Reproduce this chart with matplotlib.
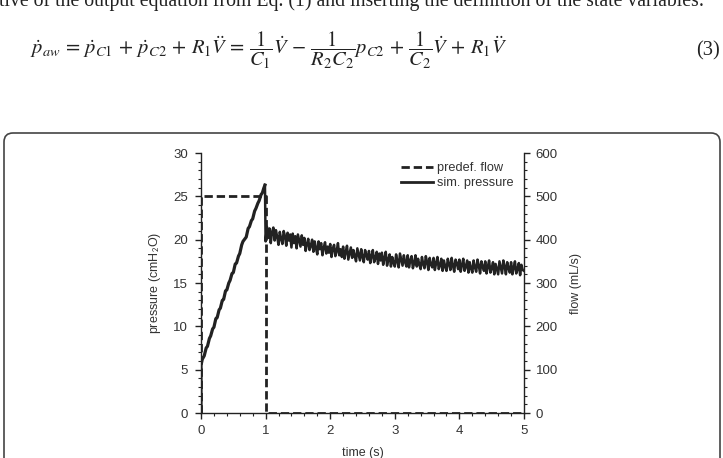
import numpy as np
import matplotlib
matplotlib.use("Agg")
import matplotlib.pyplot as plt
from matplotlib.patches import FancyBboxPatch
from matplotlib.lines import Line2D
from matplotlib.ticker import MultipleLocator
from matplotlib.transforms import IdentityTransform

plt.rcParams['font.family'] = ['Liberation Sans', 'DejaVu Sans']
plt.rcParams['mathtext.fontset'] = 'stix'

# ---------------- data ----------------
# predefined flow (mL/s)
flow_t = [0.0, 0.0, 1.0, 1.0, 5.0]
flow_v = [0, 500, 500, 0, 0]

# simulated pressure during inspiration (cmH2O)
ramp_t = [0.0, 0.0, 0.02, 0.05, 0.08, 0.10, 0.13, 0.15, 0.18, 0.20, 0.23, 0.25, 0.28,
          0.30, 0.33, 0.35, 0.38, 0.40, 0.43, 0.45, 0.48, 0.50, 0.53, 0.55, 0.58,
          0.60, 0.63, 0.65, 0.68, 0.70, 0.73, 0.75, 0.78, 0.80, 0.83, 0.85, 0.88,
          0.90, 0.93, 0.95, 0.97, 0.99]
ramp_p = [0.0, 5.5, 6.2, 6.6, 7.5, 7.7, 8.6, 8.9, 9.7, 9.9, 10.9, 11.0, 11.9,
          12.1, 13.0, 13.1, 14.1, 14.2, 15.0, 15.3, 16.1, 16.2, 17.2, 17.3, 18.1,
          18.4, 19.4, 19.8, 20.1, 20.3, 21.3, 21.5, 22.2, 22.4, 23.3, 23.6, 24.2,
          24.5, 25.2, 25.4, 25.9, 26.3]

# simulated pressure after end of inspiration, sampled every 0.02 s from 1.00 s to 5.00 s
decay_p = [
    19.8, 21.5, 20.2, 21.3, 19.6, 20.9, 21.4, 19.9, 21.1, 20.3,
    19.4, 20.9, 20.1, 19.5, 21.0, 20.4, 19.3, 20.8, 19.9, 20.6,
    19.1, 20.7, 19.6, 20.4, 19.0, 20.6, 19.9, 19.2, 20.5, 19.4,
    20.2, 18.7, 19.5, 20.1, 18.8, 19.3, 20.0, 18.6, 19.8, 19.0,
    18.3, 19.8, 18.9, 19.6, 18.2, 19.1, 19.7, 18.4, 19.2, 18.5,
    19.5, 18.0, 19.0, 19.4, 18.1, 18.7, 19.6, 18.2, 18.9, 18.0,
    19.2, 17.8, 18.6, 19.3, 17.7, 18.4, 19.1, 17.9, 18.8, 18.1,
    17.5, 19.0, 18.3, 17.6, 18.9, 18.0, 17.4, 18.8, 18.2, 17.7,
    18.7, 17.3, 18.1, 18.8, 17.4, 17.9, 18.6, 17.2, 18.4, 17.6,
    18.5, 17.1, 17.9, 18.6, 17.0, 17.7, 18.3, 16.9, 18.0, 17.3,
    16.9, 18.3, 17.5, 16.8, 18.4, 17.7, 17.0, 18.2, 17.4, 16.9,
    18.2, 16.8, 17.6, 18.1, 16.7, 17.3, 18.2, 16.9, 17.8, 17.1,
    16.6, 18.0, 17.2, 16.7, 18.1, 17.4, 16.5, 17.9, 17.1, 16.8,
    17.9, 16.5, 17.3, 18.0, 16.6, 17.0, 17.8, 16.4, 17.6, 16.9,
    16.4, 17.8, 17.2, 16.5, 17.9, 17.0, 16.3, 17.7, 17.3, 16.6,
    17.7, 16.3, 17.1, 17.8, 16.4, 16.9, 17.6, 16.2, 17.4, 16.7,
    16.2, 17.6, 16.8, 16.3, 17.7, 17.0, 16.1, 17.5, 16.9, 16.4,
    17.5, 16.1, 16.9, 17.6, 16.2, 16.7, 17.4, 16.0, 17.2, 16.6,
    16.0, 17.5, 16.8, 16.1, 17.6, 16.9, 16.0, 17.4, 16.7, 16.2,
    17.4, 16.0, 16.8, 17.5, 16.1, 16.6, 17.3, 15.9, 17.1, 16.5,
    16.4,
]
decay_t = np.round(np.linspace(1.0, 5.0, len(decay_p)), 2)

press_t = list(ramp_t) + list(decay_t)
press_p = list(ramp_p) + list(decay_p)

x_ticks = [0, 1, 2, 3, 4, 5]
p_ticks = [0, 5, 10, 15, 20, 25, 30]
f_ticks = [0, 100, 200, 300, 400, 500, 600]

series_labels = ["predef. flow", "sim. pressure"]

# ---------------- figure ----------------
W, H = 723, 458
fig = plt.figure(figsize=(W / 100, H / 100), dpi=100)
fig.patch.set_facecolor('white')

txt = '#333333'
ink = '#222222'

# page text above the figure
fig.text(-1 / W, 1 - 6 / H,
         "tive of the output equation from Eq. (1) and inserting the definition of the state variables:",
         family=['Liberation Serif', 'DejaVu Serif'], fontsize=14.2, color='#222222',
         ha='left', va='baseline')
fig.text(30 / W, 1 - 55 / H,
         r'$\dot{p}_{aw} \,=\, \dot{p}_{C1} \,+\, \dot{p}_{C2} \,+\, R_1\ddot{V} \,=\, \dfrac{1}{C_1}\dot{V}'
         r' \,-\, \dfrac{1}{R_2C_2}p_{C2} \,+\, \dfrac{1}{C_2}\dot{V} \,+\, R_1\ddot{V}$',
         fontsize=14.8, color='#222222', ha='left', va='baseline')
fig.text(720 / W, 1 - 55 / H, "(3)", family=['Liberation Serif', 'DejaVu Serif'],
         fontsize=14.8, color='#222222', ha='right', va='baseline')

# rounded frame around the figure
frame = FancyBboxPatch((4, -30), 716, 355, boxstyle="round,pad=0,rounding_size=9",
                       transform=IdentityTransform(), fill=False,
                       edgecolor='#444444', linewidth=1.2)
fig.patches.append(frame)
frame.set_figure(fig)

ax = fig.add_axes([201 / W, 45 / H, 323 / W, 260 / H])
ax2 = ax.twinx()

dash = (0, (3.0, 1.4))
ax2.plot(flow_t, flow_v, color=ink, linestyle=dash, linewidth=2.0, zorder=3)
ax.plot(ramp_t, ramp_p, color=ink, linestyle='-', linewidth=2.3, zorder=2)
ax.plot(press_t[len(ramp_t) - 1:], press_p[len(ramp_t) - 1:], color=ink,
        linestyle='-', linewidth=1.8, zorder=2)

ax.set_xlim(0, 5)
ax.set_ylim(0, 30)
ax2.set_ylim(0, 600)

ax.set_xticks(x_ticks)
ax.set_yticks(p_ticks)
ax2.set_yticks(f_ticks)
ax.xaxis.set_minor_locator(MultipleLocator(0.2))
ax.yaxis.set_minor_locator(MultipleLocator(1))
ax2.yaxis.set_minor_locator(MultipleLocator(20))

for a in (ax, ax2):
    a.spines['top'].set_visible(False)
    a.patch.set_visible(False)
    for s in a.spines.values():
        s.set_color(ink)
        s.set_linewidth(1.0)
ax.spines['right'].set_visible(False)
ax2.spines['left'].set_visible(False)
ax2.spines['bottom'].set_visible(False)

ax.tick_params(axis='both', which='major', direction='out', length=4.5, width=1.0,
               color=ink, labelsize=9.5, labelcolor=txt, pad=4)
ax.tick_params(axis='both', which='minor', direction='out', length=2.5, width=0.8, color=ink)
ax.tick_params(axis='y', which='major', pad=5)
ax2.tick_params(axis='y', which='major', direction='out', length=4.5, width=1.0,
                color=ink, labelsize=9.5, labelcolor=txt, pad=4)
ax2.tick_params(axis='y', which='minor', direction='out', length=2.5, width=0.8, color=ink)

ax.set_xlabel("time (s)", fontsize=9, color=txt)
ax.set_ylabel(r"pressure (cmH$_{\mathsf{2}}$O)", fontsize=9, color=txt)
ax2.set_ylabel("flow (mL/s)", fontsize=9, color=txt, rotation=90)
ax.xaxis.set_label_coords(0.5, -0.13)
ax.yaxis.set_label_coords(-0.117, 0.5)
ax2.yaxis.set_label_coords(1.142, 0.5)

handles = [Line2D([], [], color=ink, linestyle=dash, linewidth=2.0),
           Line2D([], [], color=ink, linestyle='-', linewidth=2.0)]
leg = ax2.legend(handles, series_labels, loc='upper left',
                 bbox_to_anchor=((401 - 201) / 323, (413 - 162) / 260),
                 frameon=False, fontsize=9.2, handlelength=2.5, handletextpad=0.35,
                 labelspacing=0.25, borderpad=0, borderaxespad=0)
for t in leg.get_texts():
    t.set_color(txt)

fig.savefig("out.png", dpi=100)
